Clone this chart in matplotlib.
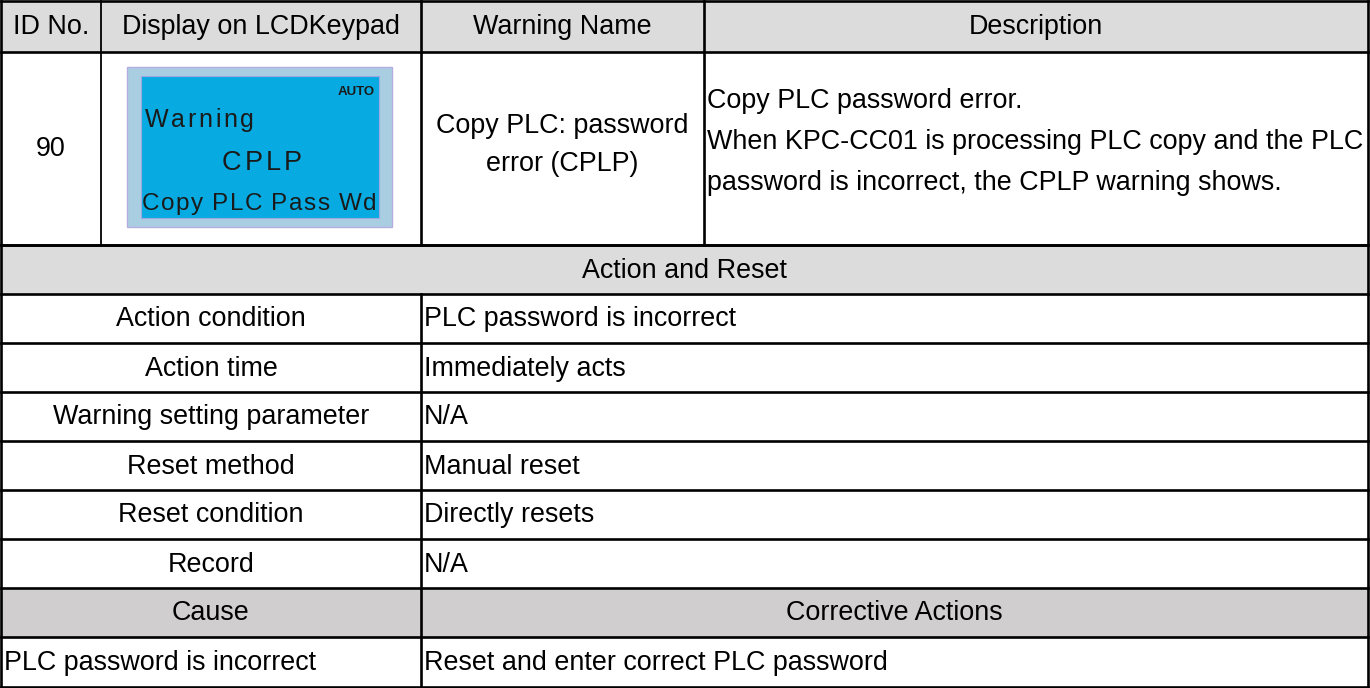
import matplotlib.pyplot as plt
from matplotlib.patches import Rectangle
from matplotlib.textpath import text_to_path
from matplotlib.font_manager import FontProperties

plt.rcParams['font.family'] = ['Liberation Sans', 'DejaVu Sans']

# === table content ===
header_labels = ["ID No.", "Display on LCDKeypad", "Warning Name", "Description"]
warning_id = "90"
warning_name = ["Copy PLC: password", "error (CPLP)"]
description_lines = [
    "Copy PLC password error.",
    "When KPC-CC01 is processing PLC copy and the PLC",
    "password is incorrect, the CPLP warning shows.",
]
lcd_lines = ["Warning", "CPLP", "Copy PLC Pass Wd"]
lcd_mode = "AUTO"
section_title = "Action and Reset"
action_labels = ["Action condition", "Action time", "Warning setting parameter",
                 "Reset method", "Reset condition", "Record"]
action_values = ["PLC password is incorrect", "Immediately acts", "N/A",
                 "Manual reset", "Directly resets", "N/A"]
cause_header = ["Cause", "Corrective Actions"]
causes = ["PLC password is incorrect"]
corrective = ["Reset and enter correct PLC password"]

# === layout (pixels) ===
W, H = 1370, 688
left, right = 1, 1368
col_x = [left, 101, 421, 704, right]
top_rows = [1, 52, 245]
row_h = 49
fs = 19.4
lw = 1.9
grey1 = "#dcdcdc"
grey2 = "#d0cece"

fig = plt.figure(figsize=(W / 100, H / 100), dpi=100)
ax = fig.add_axes([0, 0, 1, 1])
ax.set_xlim(0, W)
ax.set_ylim(H, 0)
ax.axis("off")

# row boundaries below the LCD row
n_low = 1 + len(action_labels) + 1 + len(causes)
low_rows = [top_rows[-1] + i * row_h for i in range(n_low + 1)]
low_rows[-1] = H - 1

# fills
ax.add_patch(Rectangle((left, top_rows[0]), right - left, top_rows[1] - top_rows[0], color=grey1, lw=0))
ax.add_patch(Rectangle((left, low_rows[0]), right - left, row_h, color=grey1, lw=0))
cause_row = 1 + len(action_labels)
ax.add_patch(Rectangle((left, low_rows[cause_row]), right - left, row_h, color=grey2, lw=0))

# grid lines
for y in top_rows + low_rows:
    ax.plot([left, right], [y, y], color="black", lw=lw, solid_capstyle="projecting")
for x in col_x:
    if x in (left, right):
        ax.plot([x, x], [top_rows[0], low_rows[-1]], color="black", lw=lw)
    else:
        ax.plot([x, x], [top_rows[0], top_rows[-1]], color="black", lw=lw if x != 101 else 1.3)
ax.plot([col_x[2], col_x[2]], [low_rows[1], low_rows[-1]], color="black", lw=lw)

# header text
for i, lab in enumerate(header_labels):
    ax.text((col_x[i] + col_x[i + 1]) / 2, (top_rows[0] + top_rows[1]) / 2 + 1, lab,
            ha="center", va="center", fontsize=fs)

# LCD row
mid = (top_rows[1] + top_rows[2]) / 2
ax.text((col_x[0] + col_x[1]) / 2, mid, warning_id, ha="center", va="center", fontsize=fs)
ax.text((col_x[2] + col_x[3]) / 2, 126, warning_name[0], ha="center", va="center", fontsize=fs)
ax.text((col_x[2] + col_x[3]) / 2, 164, warning_name[1], ha="center", va="center", fontsize=fs)
for j, line in enumerate(description_lines):
    ax.text(col_x[3] + 3, 101 + j * 41, line, ha="left", va="center", fontsize=fs)

# LCD picture
ax.add_patch(Rectangle((127, 67), 265, 160, facecolor="#a9cee2", edgecolor="#b4aee0", lw=1))
ax.add_patch(Rectangle((141, 76), 238, 142, facecolor="#07abe1", edgecolor="#9fa6e0", lw=0.8))


def spaced_text(x, y, s, size, spacing, ha="left", weight="normal"):
    fp = FontProperties(family="Liberation Sans", size=size, weight=weight)
    widths = [text_to_path.get_text_width_height_descent(c, fp, ismath=False)[0] * 100 / 72 for c in s]
    total = sum(widths) + spacing * (len(s) - 1)
    if ha == "center":
        x = x - total / 2
    for c, w in zip(s, widths):
        ax.text(x, y, c, fontproperties=fp, ha="left", va="center", color="#1a1a1a")
        x += w + spacing


ax.text(375, 92, lcd_mode, ha="right", va="center", fontsize=9.5, weight="bold", color="#1a1a1a")
spaced_text(145, 120, lcd_lines[0], 18, 2.6)
spaced_text(262, 163, lcd_lines[1], 19.5, 3.2, ha="center")
spaced_text(142, 204, lcd_lines[2], 17.5, 1.3)

# action and reset section
ax.text((left + right) / 2, low_rows[0] + row_h / 2 + 1, section_title, ha="center", va="center", fontsize=fs)
for k, (lab, val) in enumerate(zip(action_labels, action_values)):
    yc = low_rows[k + 1] + row_h / 2 + 1
    ax.text((left + col_x[2]) / 2, yc, lab, ha="center", va="center", fontsize=fs)
    ax.text(col_x[2] + 3, yc, val, ha="left", va="center", fontsize=fs)

yc = low_rows[cause_row] + row_h / 2 + 1
ax.text((left + col_x[2]) / 2, yc, cause_header[0], ha="center", va="center", fontsize=fs)
ax.text((col_x[2] + right) / 2, yc, cause_header[1], ha="center", va="center", fontsize=fs)
for k, (c, a) in enumerate(zip(causes, corrective)):
    yc = low_rows[cause_row + 1 + k] + row_h / 2 + 1
    ax.text(left + 3, yc, c, ha="left", va="center", fontsize=fs)
    ax.text(col_x[2] + 3, yc, a, ha="left", va="center", fontsize=fs)

fig.savefig("out.png", dpi=100)
